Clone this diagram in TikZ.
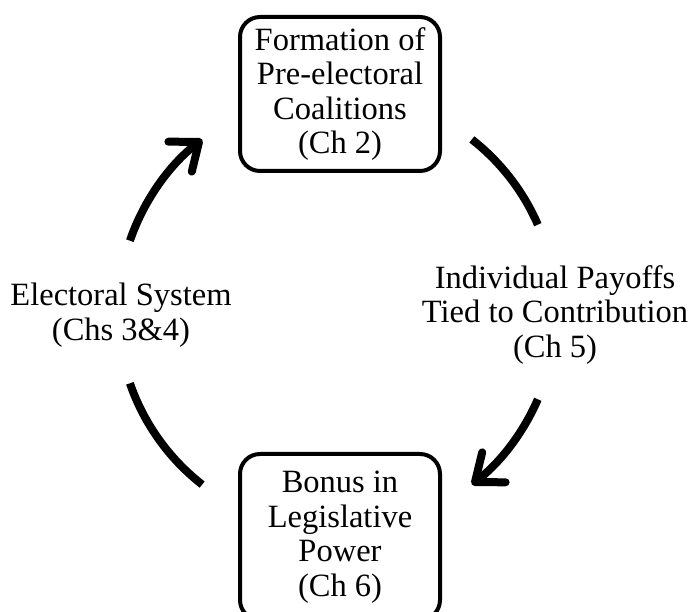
\documentclass[tikz,border=0pt]{standalone}
\usepackage{fontspec}
\setmainfont{Liberation Serif}
\usetikzlibrary{arrows.meta,calc}
\begin{document}
\begin{tikzpicture}[x=1pt,y=1pt,
  txt/.style={font=\fontsize{32.5}{34.5}\selectfont, align=center, inner sep=0pt},
  stage/.style={txt, draw, line width=4pt, rounded corners=20pt, minimum width=200pt},
  flow/.style={line width=8pt},
  head/.style={-{Straight Barb[length=24pt,width=38pt,round]}}]
\useasboundingbox (0,0) rectangle (693,612);
\clip (0,0) rectangle (693,612);

% the four stages of the cycle
\node[stage, minimum height=154pt] (form) at (340,518)
  {Formation of\\Pre-electoral\\Coalitions\\(Ch 2)};
\node[stage, minimum height=166pt] (bonus) at (340,75)
  {Bonus in\\Legislative\\Power\\(Ch 6)};
\node[txt] (payoff) at (555,297)
  {Individual Payoffs\\Tied to Contribution\\(Ch 5)};
\node[txt] (elect) at (121,297)
  {Electoral System\\(Chs 3\&4)};

% arcs of the cycle around a common centre
\coordinate (hub) at (337,300);
\def\R{219}
\coordinate (ulA) at ($(hub)+(161:\R)$);
\coordinate (urA) at ($(hub)+(52:\R)$);
\coordinate (lrA) at ($(hub)+(-23.5:\R)$);
\coordinate (llA) at ($(hub)+(199:\R)$);

\draw[flow, head] (ulA) arc[start angle=161, end angle=128, radius=\R];
\draw[flow] (urA) arc[start angle=52, end angle=23.5, radius=\R];
\draw[flow, head] (lrA) arc[start angle=-23.5, end angle=-52, radius=\R];
\draw[flow] (llA) arc[start angle=199, end angle=232, radius=\R];
\end{tikzpicture}
\end{document}
